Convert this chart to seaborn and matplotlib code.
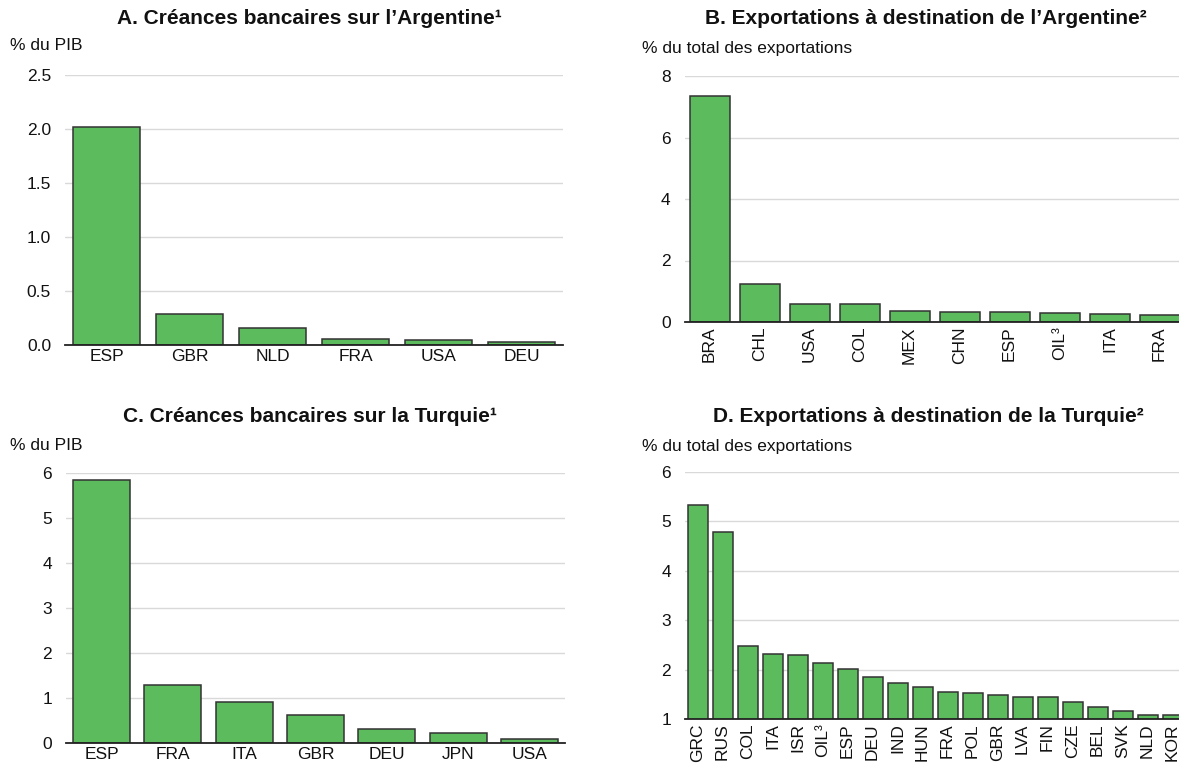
import matplotlib
matplotlib.use("Agg")
import matplotlib.pyplot as plt
import seaborn as sns
import pandas as pd

# ---- data ----
a_cats = ["ESP", "GBR", "NLD", "FRA", "USA", "DEU"]
a_vals = [2.02, 0.29, 0.16, 0.055, 0.05, 0.025]

b_cats = ["BRA", "CHL", "USA", "COL", "MEX", "CHN", "ESP", "OIL³", "ITA", "FRA"]
b_vals = [7.35, 1.24, 0.57, 0.57, 0.36, 0.34, 0.32, 0.28, 0.25, 0.23]

c_cats = ["ESP", "FRA", "ITA", "GBR", "DEU", "JPN", "USA"]
c_vals = [5.85, 1.29, 0.91, 0.62, 0.31, 0.22, 0.08]

d_cats = ["GRC", "RUS", "COL", "ITA", "ISR", "OIL³", "ESP", "DEU", "IND", "HUN",
          "FRA", "POL", "GBR", "LVA", "FIN", "CZE", "BEL", "SVK", "NLD", "KOR"]
d_vals = [5.33, 4.79, 2.48, 2.32, 2.30, 2.14, 2.02, 1.85, 1.72, 1.64,
          1.55, 1.53, 1.49, 1.44, 1.44, 1.34, 1.24, 1.17, 1.09, 1.09]

titles = ["A. Créances bancaires sur l’Argentine¹",
          "B. Exportations à destination de l’Argentine²",
          "C. Créances bancaires sur la Turquie¹",
          "D. Exportations à destination de la Turquie²"]
units = ["% du PIB", "% du total des exportations", "% du PIB", "% du total des exportations"]

sns.set_theme(style="white")
plt.rcParams["font.family"] = ["Liberation Sans", "DejaVu Sans"]

W, H = 1179, 763
fig = plt.figure(figsize=(W / 100, H / 100), dpi=100)

def ax_at(x0, x1, ytop, ybot):
    return fig.add_axes([x0 / W, 1 - ybot / H, (x1 - x0) / W, (ybot - ytop) / H])

GREEN = "#5cbb5c"
EDGE = "#333333"
TXT = "#111111"

panels = [
    (ax_at(65, 563, 75, 345), a_cats, a_vals, (0, 2.5), [0, 0.5, 1.0, 1.5, 2.0, 2.5], 0, "{:.1f}"),
    (ax_at(684.5, 1184.5, 76, 322), b_cats, b_vals, (0, 8), [0, 2, 4, 6, 8], 90, "{:g}"),
    (ax_at(65.8, 565, 473, 743), c_cats, c_vals, (0, 6), [0, 1, 2, 3, 4, 5, 6], 0, "{:g}"),
    (ax_at(685, 1185, 472, 719), d_cats, d_vals, (1, 6), [1, 2, 3, 4, 5, 6], 90, "{:g}"),
]

for i, (ax, cats, vals, ylim, yticks, rot, fmt) in enumerate(panels):
    df = pd.DataFrame({"cat": cats, "val": vals})
    sns.barplot(data=df, x="cat", y="val", color=GREEN, edgecolor=EDGE,
                linewidth=1.1, saturation=1, width=0.8, ax=ax, zorder=3)
    ax.set_xlim(-0.5, len(cats) - 0.5)
    ax.set_ylim(*ylim)
    ax.set_yticks(yticks)
    ax.set_yticklabels([fmt.format(t) for t in yticks])
    ax.set_xlabel("")
    ax.set_ylabel("")
    ax.grid(axis="y", color="#d9d9d9", linewidth=1.0, zorder=0)
    ax.set_axisbelow(True)
    for s in ["left", "right", "top"]:
        ax.spines[s].set_visible(False)
    ax.spines["bottom"].set_color("#222222")
    ax.spines["bottom"].set_linewidth(1.3)
    ax.spines["bottom"].set_zorder(5)
    ax.tick_params(axis="y", length=0, pad=10, labelsize=12.5, labelcolor=TXT)
    ax.tick_params(axis="x", length=0, pad=3, labelsize=12.5, labelcolor=TXT)
    for lab in ax.get_xticklabels():
        lab.set_rotation(rot)
    ax.patch.set_alpha(0)

# titles and unit labels
fig.text(309 / W, 1 - 18 / H, titles[0], ha="center", va="center", fontsize=15, fontweight="bold", color=TXT)
fig.text(926 / W, 1 - 19 / H, titles[1], ha="center", va="center", fontsize=15, fontweight="bold", color=TXT)
fig.text(310 / W, 1 - 417 / H, titles[2], ha="center", va="center", fontsize=15, fontweight="bold", color=TXT)
fig.text(928 / W, 1 - 416 / H, titles[3], ha="center", va="center", fontsize=15, fontweight="bold", color=TXT)

fig.text(10 / W, 1 - 45 / H, units[0], ha="left", va="center", fontsize=12.5, color=TXT)
fig.text(642 / W, 1 - 48 / H, units[1], ha="left", va="center", fontsize=12.5, color=TXT)
fig.text(10 / W, 1 - 446 / H, units[2], ha="left", va="center", fontsize=12.5, color=TXT)
fig.text(642 / W, 1 - 446 / H, units[3], ha="left", va="center", fontsize=12.5, color=TXT)

fig.savefig("out.png", dpi=100)
